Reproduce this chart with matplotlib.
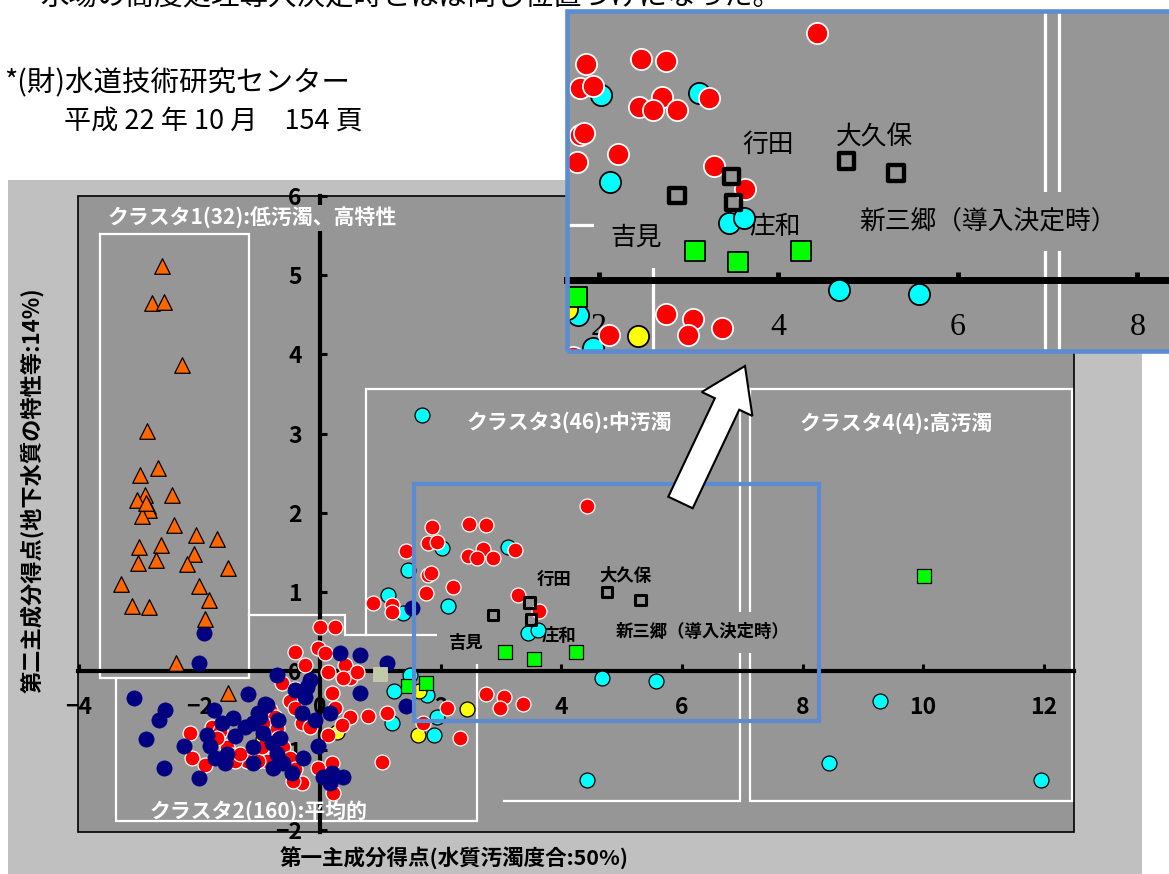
import matplotlib
matplotlib.use("Agg")
import matplotlib.pyplot as plt
from matplotlib.patches import Rectangle, FancyArrow

plt.rcParams['font.family'] = ['Noto Sans CJK JP', 'DejaVu Sans']
plt.rcParams['axes.unicode_minus'] = True

# 主成分得点 (第一主成分, 第二主成分)
cluster1_pts = [(-2.62, 5.11), (-2.79, 4.65), (-2.59, 4.66), (-2.29, 3.86), (-2.87, 3.03),
                (-2.99, 2.48), (-2.69, 2.56), (-2.90, 2.23), (-3.03, 2.16), (-2.85, 2.08),
                (-2.84, 2.03), (-2.95, 1.96), (-2.45, 2.22), (-2.42, 1.85), (-2.06, 1.72),
                (-1.71, 1.67), (-3.00, 1.57), (-2.64, 1.59), (-2.09, 1.48), (-3.02, 1.37),
                (-2.72, 1.41), (-2.21, 1.35), (-1.53, 1.30), (-3.30, 1.10), (-2.01, 1.08),
                (-1.84, 0.90), (-3.12, 0.82), (-2.84, 0.81), (-1.91, 0.66), (-2.39, 0.11),
                (-1.53, -0.28), (-2.88, 2.12)]

red_pts = [(4.43, 2.08), (1.86, 1.82), (2.47, 1.86), (2.75, 1.84), (1.43, 1.52), (1.79, 1.62),
           (1.94, 1.63), (2.70, 1.54), (2.45, 1.46), (2.60, 1.43), (2.87, 1.43), (3.23, 1.53),
           (1.79, 1.22), (1.84, 1.24), (2.21, 1.06), (1.76, 0.99), (0.88, 0.86), (1.19, 0.84),
           (1.19, 0.75), (3.28, 0.96), (3.63, 0.76),
           (0.00, 0.56), (0.25, 0.56), (-0.41, 0.24), (-0.03, 0.29), (0.08, 0.23), (-0.25, 0.08),
           (0.13, -0.01), (0.41, 0.08), (0.50, -0.08), (0.38, -0.09), (-0.63, -0.15), (-0.41, -0.22),
           (0.20, -0.28), (-0.50, -0.37), (-0.41, -0.47), (-0.30, -0.66), (-0.17, -0.71), (0.25, -0.47),
           (0.50, -0.58), (0.13, -0.81), (0.36, -0.68), (-0.03, -1.22), (0.20, -1.16), (-0.30, -1.41),
           (0.22, -1.54), (0.80, -0.56), (1.11, -0.53), (1.03, -1.14), (0.61, -0.01),
           (-2.16, -0.78), (-2.12, -1.09), (-1.91, -1.19), (-1.79, -0.71), (-1.66, -0.75),
           (-1.54, -0.96), (-1.44, -1.06), (-1.21, -1.13), (-0.83, -0.49), (-0.75, -0.58),
           (-0.71, -0.72), (-0.70, -0.84), (-0.61, -0.96), (-0.50, -1.09), (-0.41, -1.23),
           (-0.45, -1.38), (-0.88, -1.13), (-1.03, -1.13), (-1.41, -1.13), (-0.96, -0.96),
           (-0.95, -0.66), (-1.71, -0.84), (-1.33, -1.04),
           (2.75, -0.29), (3.05, -0.33), (2.99, -0.47), (3.37, -0.41), (2.11, -0.47),
           (2.32, -0.84), (1.71, -0.65)]

navy_pts = [(-1.92, 0.48), (-2.01, 0.11), (-3.08, -0.34), (-2.57, -0.49), (-2.67, -0.61),
            (-2.89, -0.86), (-2.26, -0.94), (-2.59, -1.22), (-2.01, -1.35), (-1.19, -0.29),
            (-0.71, -0.05), (-1.76, -0.49), (-1.87, -0.81), (-1.63, -0.66), (-1.44, -0.59),
            (-1.41, -0.82), (-1.82, -0.94), (-1.74, -1.09), (-1.58, -1.16), (-1.54, -1.04),
            (-1.24, -0.70), (-1.11, -0.66), (-1.03, -0.53), (-0.91, -0.41), (-0.95, -0.78),
            (-1.11, -0.96), (-1.11, -1.16), (-0.80, -0.91), (-0.71, -1.04), (-0.78, -1.22),
            (-0.61, -1.16), (-0.46, -1.29), (-0.70, -0.62), (-0.28, -1.09), (-0.41, -0.24),
            (-0.25, -0.33), (-0.17, -0.11), (-0.30, -0.53), (-0.08, -0.62), (-0.03, -0.94),
            (0.33, 0.23), (0.66, 0.20), (0.05, -1.34), (0.20, -1.28), (0.38, -1.34),
            (0.17, -1.41), (1.11, 0.10), (0.66, -0.28), (0.17, -0.53), (-0.88, -0.43),
            (-0.66, -0.84), (-1.00, -0.58), (-0.22, -0.20), (1.53, 0.80), (1.43, -0.44)]

cyan_pts = [(9.29, -0.38), (8.44, -1.16), (11.96, -1.37), (4.68, -0.09), (5.57, -0.12),
            (4.43, -1.37), (1.23, -0.25), (1.49, -0.05), (1.77, -0.30), (1.94, -0.58),
            (1.19, -0.65), (1.89, -0.81), (1.69, 3.23), (2.02, 1.56), (3.12, 1.57),
            (1.46, 1.28), (1.13, 0.96), (1.38, 0.73), (2.12, 0.82), (3.45, 0.48), (3.62, 0.52)]

yellow_pts = [(2.44, -0.48), (1.63, -0.80), (1.64, -0.25), (0.28, -0.77), (-0.95, -0.85)]

green_pts = [(3.07, 0.24), (3.55, 0.15), (4.25, 0.24), (1.46, -0.19), (1.76, -0.15), (10.02, 1.20)]

pale_pts = [(1.00, -0.03)]

# 浄水場 (□) と名称
plant_names = ["吉見", "行田", "庄和", "大久保", "新三郷（導入決定時）"]
plant_pts = [(2.87, 0.71), (3.48, 0.87), (3.50, 0.65), (4.76, 1.00), (5.31, 0.90)]
plant_label_pos = [(2.42, 0.35), (3.89, 1.14), (3.96, 0.44), (5.07, 1.20), (6.34, 0.49)]

# クラスタ境界
box1 = [(-3.65, 5.52), (-1.18, 5.52), (-1.18, -0.09), (-3.65, -0.09), (-3.65, 5.52)]
box2 = [(-1.18, 0.71), (0.415, 0.71), (0.415, 0.456), (2.60, 0.456), (2.60, -1.886),
        (-3.38, -1.886), (-3.38, -0.09)]
box3 = [(0.763, 0.456), (0.763, 3.557), (6.965, 3.557), (6.965, -1.633), (3.05, -1.633)]
box4 = [(7.13, 3.557), (12.47, 3.557), (12.47, -1.633), (7.13, -1.633), (7.13, 3.557)]

cluster_names = ["クラスタ1(32):低汚濁、高特性", "クラスタ2(160):平均的",
                 "クラスタ3(46):中汚濁", "クラスタ4(4):高汚濁"]
cluster_label_pos = [(-1.12, 5.72), (-1.01, -1.76), (4.13, 3.14), (9.55, 3.13)]

x_ticks = [-4, -2, 0, 2, 4, 6, 8, 10, 12]
y_ticks = [-2, -1, 0, 1, 2, 3, 4, 5, 6]
inset_ticks = [2, 4, 6, 8]
zoom_box = (1.56, -0.63, 8.28, 2.37)

PLOT_BG = '#969696'
PANEL_BG = '#c0c0c0'
BLUE = '#5b8bd0'


def xy(pts):
    return [p[0] for p in pts], [p[1] for p in pts]


def tick_text(v):
    return f"\u2212{abs(v)}" if v < 0 else str(v)


def draw_boxes(ax, k):
    for box in (box1, box2, box3, box4):
        bx, by = xy(box)
        ax.plot(bx, by, color='white', lw=1.6 * k, zorder=2, solid_joinstyle='miter')


def draw_points(ax, k):
    ax.scatter(*xy(cyan_pts), s=115 * k * k, c='#00ffff', edgecolors='black', linewidths=0.9 * k, zorder=4)
    ax.scatter(*xy(yellow_pts), s=115 * k * k, c='#ffff00', edgecolors='black', linewidths=0.9 * k, zorder=4)
    ax.scatter(*xy(red_pts), s=115 * k * k, c='#ff0000', edgecolors='white', linewidths=0.9 * k, zorder=5)
    ax.scatter(*xy(navy_pts), s=120 * k * k, c='#000080', edgecolors='#000080', linewidths=0.5, zorder=6)
    ax.scatter(*xy(pale_pts), s=90 * k * k, marker='s', c='#bfcaa9', edgecolors='#d8c8b0', linewidths=0.6, zorder=6)
    ax.scatter(*xy(green_pts), s=100 * k * k, marker='s', c='#00ff00', edgecolors='black', linewidths=0.9 * k, zorder=7)
    ax.scatter(*xy(cluster1_pts), s=125 * k * k, marker='^', c='#ff6600', edgecolors='black', linewidths=0.9 * k, zorder=7)
    ax.scatter(*xy(plant_pts), s=60 * k * k, marker='s', facecolors='none', edgecolors='black', linewidths=2.2 * k, zorder=8)


def draw_plant_labels(ax, size, weight, clip):
    for name, (lx, ly) in zip(plant_names, plant_label_pos):
        ax.text(lx, ly, name, ha='center', va='center', fontsize=size, fontweight=weight,
                color='black', zorder=3, clip_on=clip,
                bbox=dict(boxstyle='square,pad=0.65', fc=PLOT_BG, ec='none'))


fig = plt.figure(figsize=(11.69, 8.74), dpi=100)
fig.patch.set_facecolor('white')

# 外側の薄いグレー枠
fig.add_artist(Rectangle((8 / 1169, 0), 1134 / 1169, 694 / 874, transform=fig.transFigure,
                         fc=PANEL_BG, ec='none', zorder=-1))

# 本文 (ページ上部)
fig.text(40 / 1169, 1 + 4 / 874, "水場の高度処理導入決定時とほぼ同じ位置づけになった。",
         fontsize=20.5, ha='left', va='center')
fig.text(4 / 1169, 1 - 82 / 874, "*(財)水道技術研究センター", fontsize=20.5, ha='left', va='center')
fig.text(64 / 1169, 1 - 121 / 874, "平成 22 年 10 月　154 頁", fontsize=19.5, ha='left', va='center')

# --- 散布図本体 ---
ax = fig.add_axes([78 / 1169, 1 - 832 / 874, 996 / 1169, 636 / 874])
ax.set_facecolor(PLOT_BG)
ax.set_xlim(-4.01, 12.5)
ax.set_ylim(-2.03, 6.0)
for side in ('top', 'right'):
    ax.spines[side].set_visible(False)
ax.spines['left'].set_position(('data', 0))
ax.spines['bottom'].set_position(('data', 0))
ax.spines['left'].set_linewidth(3)
ax.spines['bottom'].set_linewidth(3)
ax.set_xticks(x_ticks)
ax.set_xticklabels([tick_text(v) for v in x_ticks], fontsize=16.5, fontweight='bold')
ax.set_yticks(y_ticks)
ax.set_yticklabels([tick_text(v) for v in y_ticks], fontsize=16.5, fontweight='bold')
ax.tick_params(axis='x', direction='in', length=5, width=2.2, pad=18)
ax.tick_params(axis='y', direction='in', length=5, width=2.2, pad=13)
ax.add_patch(Rectangle((0, 0), 1, 1, transform=ax.transAxes, fill=False, ec='black',
                       lw=1.2, zorder=0.5, clip_on=False))

draw_boxes(ax, 1.0)
draw_points(ax, 1.0)
draw_plant_labels(ax, 12.5, 'bold', False)

for i, (name, (lx, ly)) in enumerate(zip(cluster_names, cluster_label_pos)):
    kw = {}
    if i == 0:
        kw['bbox'] = dict(boxstyle='square,pad=0.1', fc=PLOT_BG, ec='none')
    ax.text(lx, ly, name, ha='center', va='center', fontsize=15, fontweight='bold',
            color='white', zorder=3, **kw)

x0, y0, x1, y1 = zoom_box
ax.add_patch(Rectangle((x0, y0), x1 - x0, y1 - y0, fill=False, ec=BLUE, lw=3, zorder=9))

fig.text(454 / 1169, 1 - 858 / 874, "第一主成分得点(水質汚濁度合:50%)", ha='center', va='center',
         fontsize=15.5, fontweight='bold')
fig.text(32 / 1169, 1 - 490 / 874, "第二主成分得点(地下水質の特性等:14%)", ha='center', va='center',
         rotation=90, fontsize=16, fontweight='bold')

# 拡大図への矢印
fig.add_artist(FancyArrow(6.805, 3.715, 0.645, 1.365, width=0.27, head_width=0.56, head_length=0.42,
                          length_includes_head=True, fc='white', ec='black', lw=1.5,
                          transform=fig.dpi_scale_trans, zorder=5))

# --- 拡大図 ---
axi = fig.add_axes([566.5 / 1169, 1 - 351 / 874, 618.5 / 1169, 340 / 874], zorder=3)
axi.set_facecolor(PLOT_BG)
axi.set_xlim(1.64, 8.53)
axi.set_ylim(-0.603, 2.266)
for side in ('top', 'right', 'left'):
    axi.spines[side].set_visible(False)
axi.spines['bottom'].set_position(('data', 0))
axi.spines['bottom'].set_linewidth(5)
axi.set_xticks(inset_ticks)
axi.set_xticklabels([str(v) for v in inset_ticks], fontsize=23, fontfamily='Liberation Serif')
axi.set_yticks([])
axi.tick_params(axis='x', direction='in', length=6, width=3.5, pad=24)
axi.add_patch(Rectangle((0, 0), 1, 1, transform=axi.transAxes, fill=False, ec=BLUE,
                        lw=3.3, zorder=10, clip_on=False))

draw_boxes(axi, 1.45)
draw_points(axi, 1.42)
draw_plant_labels(axi, 18.5, 'normal', True)

fig.savefig('out.png', dpi=100)
